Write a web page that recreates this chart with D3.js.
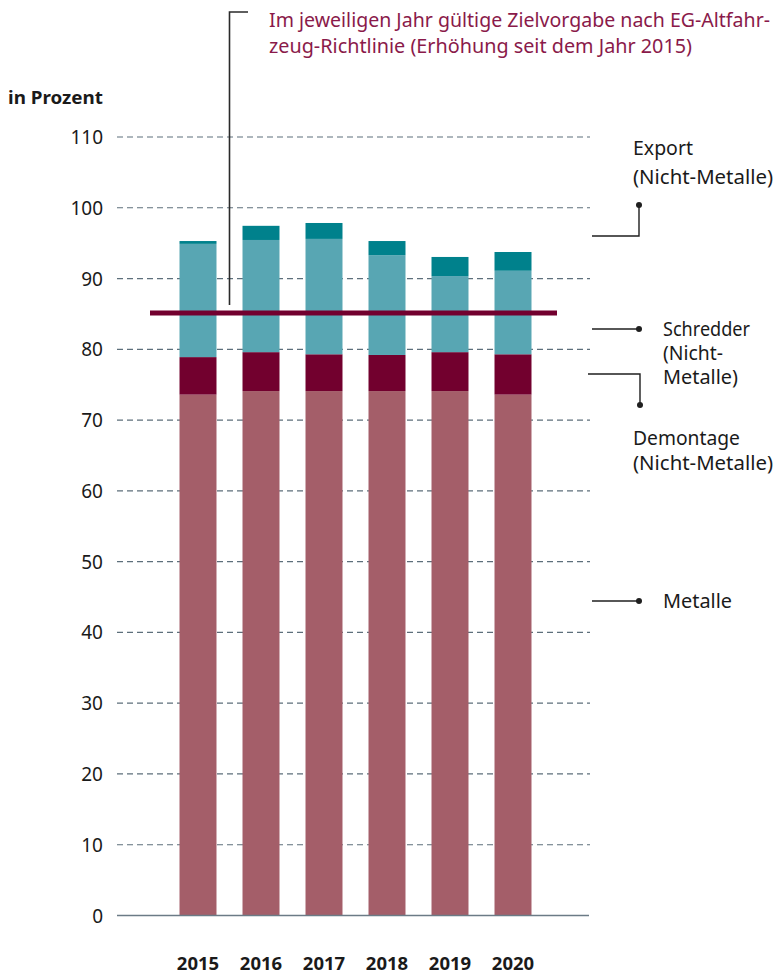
<!DOCTYPE html>
<html>
<head>
<meta charset="utf-8">
<script src="https://cdn.jsdelivr.net/npm/d3@7"></script>
<style>
  html, body { margin: 0; padding: 0; background: #fff; }
  svg { display: block; font-family: "Noto Sans", "Open Sans", sans-serif; }
</style>
</head>
<body>
<svg id="chart" width="784" height="973"></svg>
<script>
// Verwertungsquoten Altfahrzeuge, in Prozent
const years = ["2015", "2016", "2017", "2018", "2019", "2020"];
const metalle   = [73.6, 74.1, 74.1, 74.1, 74.1, 73.6];
const demontage = [5.3, 5.5, 5.2, 5.1, 5.5, 5.7];
const schredder = [16.0, 15.85, 16.3, 14.1, 10.75, 11.8];
const exportNM  = [0.4, 2.0, 2.25, 2.0, 2.7, 2.65];
const zielvorgabe = 85;
const yTicks = [0, 10, 20, 30, 40, 50, 60, 70, 80, 90, 100, 110];

const seriesKeys = ["Metalle", "Demontage", "Schredder", "Export"];
const seriesColors = ["#a45e69", "#72002e", "#58a6b3", "#00818c"];

const rows = years.map((y, i) => ({
  year: y,
  Metalle: metalle[i],
  Demontage: demontage[i],
  Schredder: schredder[i],
  Export: exportNM[i]
}));

const svg = d3.select("#chart");

const x = d3.scaleBand()
  .domain(years)
  .range([166.5, 544.5])
  .paddingInner(0.413)
  .paddingOuter(0.2065);

const y = d3.scaleLinear().domain([0, 110]).range([915.5, 137]);

const gridLeft = 117, gridRight = 590;

// Gestrichelte Hilfslinien
svg.append("g")
  .selectAll("line")
  .data(yTicks.filter(d => d > 0))
  .join("line")
  .attr("x1", gridLeft).attr("x2", gridRight)
  .attr("y1", d => y(d)).attr("y2", d => y(d))
  .attr("stroke", "#5d6f7b")
  .attr("stroke-width", 1.2)
  .attr("stroke-dasharray", "6,4");

// Beschriftung der y-Achse
svg.append("g")
  .selectAll("text")
  .data(yTicks)
  .join("text")
  .attr("x", 103)
  .attr("y", d => y(d))
  .attr("text-anchor", "end")
  .attr("dominant-baseline", "central")
  .attr("font-size", 19)
  .attr("fill", "#1a1a1a")
  .text(d => d);

svg.append("text")
  .attr("x", 8).attr("y", 96)
  .attr("dominant-baseline", "central")
  .attr("font-size", 18.5)
  .attr("font-weight", "bold")
  .attr("fill", "#1a1a1a")
  .attr("textLength", 95)
  .attr("lengthAdjust", "spacingAndGlyphs")
  .text("in Prozent");

// Gestapelte Säulen
const stack = d3.stack().keys(seriesKeys);
const stacked = stack(rows);

svg.append("g")
  .selectAll("g")
  .data(stacked)
  .join("g")
  .attr("fill", (d, i) => seriesColors[i])
  .selectAll("rect")
  .data(d => d)
  .join("rect")
  .attr("x", d => x(d.data.year))
  .attr("width", x.bandwidth())
  .attr("y", d => y(d[1]))
  .attr("height", d => y(d[0]) - y(d[1]));

// Nulllinie
svg.append("line")
  .attr("x1", gridLeft).attr("x2", gridRight - 1)
  .attr("y1", y(0)).attr("y2", y(0))
  .attr("stroke", "#6b7b86")
  .attr("stroke-width", 1.6);

// Jahreszahlen
svg.append("g")
  .selectAll("text")
  .data(years)
  .join("text")
  .attr("x", d => x(d) + x.bandwidth() / 2)
  .attr("y", 962)
  .attr("text-anchor", "middle")
  .attr("dominant-baseline", "central")
  .attr("font-size", 18.5)
  .attr("font-weight", "bold")
  .attr("fill", "#1a1a1a")
  .text(d => d);

// Zielvorgabe-Linie
svg.append("line")
  .attr("x1", 150).attr("x2", 557)
  .attr("y1", y(zielvorgabe) - 1).attr("y2", y(zielvorgabe) - 1)
  .attr("stroke", "#72002e")
  .attr("stroke-width", 5);

// Hinweis zur Zielvorgabe
svg.append("path")
  .attr("d", `M248,12 H229.5 V305`)
  .attr("fill", "none")
  .attr("stroke", "#2a2a2a")
  .attr("stroke-width", 1.6);

const noteColor = "#8a1a4a";
const noteLines = [
  { t: "Im jeweiligen Jahr gültige Zielvorgabe nach EG-Altfahr-", y: 20, w: 501 },
  { t: "zeug-Richtlinie (Erhöhung seit dem Jahr 2015)", y: 46, w: 423 }
];
svg.append("g")
  .selectAll("text")
  .data(noteLines)
  .join("text")
  .attr("x", 269)
  .attr("y", d => d.y)
  .attr("dominant-baseline", "central")
  .attr("font-size", 19)
  .attr("fill", noteColor)
  .attr("textLength", d => d.w)
  .attr("lengthAdjust", "spacingAndGlyphs")
  .text(d => d.t);

// Legende mit Verbindungslinien
const legendStroke = "#1f1f1f";
const leaders = [
  { d: "M592,236 H639 V205", dot: [639, 205] },
  { d: "M592,329 H639", dot: [639, 329] },
  { d: "M588,374 H640 V405", dot: [640, 405] },
  { d: "M592,601 H639", dot: [639, 601] }
];
const lg = svg.append("g");
lg.selectAll("path")
  .data(leaders)
  .join("path")
  .attr("d", d => d.d)
  .attr("fill", "none")
  .attr("stroke", legendStroke)
  .attr("stroke-width", 1.4);
lg.selectAll("circle")
  .data(leaders)
  .join("circle")
  .attr("cx", d => d.dot[0])
  .attr("cy", d => d.dot[1])
  .attr("r", 3)
  .attr("fill", legendStroke);

const legendTexts = [
  { t: "Export", x: 633, y: 148, w: 60 },
  { t: "(Nicht-Metalle)", x: 633, y: 177, w: 140 },
  { t: "Schredder", x: 663, y: 329, w: 87 },
  { t: "(Nicht-", x: 663, y: 353, w: 60 },
  { t: "Metalle)", x: 663, y: 377, w: 75 },
  { t: "Demontage", x: 633, y: 438, w: 107 },
  { t: "(Nicht-Metalle)", x: 633, y: 463, w: 140 },
  { t: "Metalle", x: 663, y: 601, w: 69 }
];
lg.selectAll("text")
  .data(legendTexts)
  .join("text")
  .attr("x", d => d.x)
  .attr("y", d => d.y)
  .attr("dominant-baseline", "central")
  .attr("font-size", 19)
  .attr("fill", "#1a1a1a")
  .attr("textLength", d => d.w)
  .attr("lengthAdjust", "spacingAndGlyphs")
  .text(d => d.t);
</script>
</body>
</html>
